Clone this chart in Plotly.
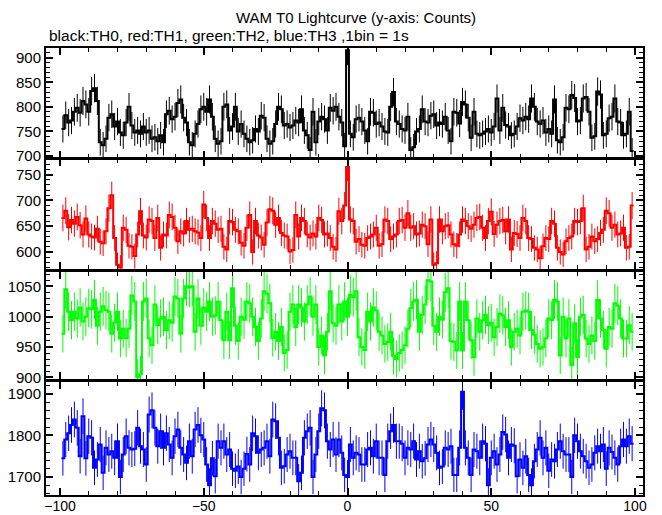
import numpy as np
import plotly.graph_objects as go

# time bins (s), 1 bin = 1 s
bins = list(range(-99, 100))

th0 = [
    755, 783, 768, 772, 790, 798, 788, 812, 805, 790,
    832, 838, 812, 728, 722, 735, 778, 785, 760, 770,
    748, 742, 768, 800, 762, 748, 752, 745, 760, 748,
    752, 735, 738, 730, 742, 728, 785, 792, 775, 780,
    808, 815, 778, 768, 728, 722, 745, 765, 795, 800,
    790, 815, 780, 735, 725, 730, 800, 805, 752, 760,
    800, 750, 765, 745,
    735, 728, 732, 755, 750, 782, 778, 735, 725, 730,
    765, 800, 795, 762, 765, 758, 762, 772, 768, 795,
    752, 742, 712, 790, 728, 770, 780, 775, 752, 798,
    792, 800, 780, 768, 720, 915, 745, 738, 775, 778,
    770, 752, 730, 790, 788, 765, 768, 760, 750, 748,
    800, 830, 770, 765, 755, 752, 780, 712, 718, 750,
    755, 795, 770, 768, 782, 785, 762, 768, 765,
    780, 752, 730, 790, 788, 766, 810, 805, 778, 737,
    790, 745, 742, 745, 750, 755, 748, 760, 817, 752,
    798, 763, 760, 742, 745, 760, 777, 772, 780, 775,
    817, 800, 770, 765, 772, 748, 755, 745, 815, 732,
    728, 738, 798, 795, 824, 818, 770, 772, 817, 820,
    790, 737, 740, 831, 825, 742, 745, 777, 780, 817,
    770, 768, 742, 745, 790, 710,
]

th1 = [
    666, 680, 648, 662, 655, 668, 652, 634, 665, 634,
    630, 628, 645, 620, 617, 640, 685, 710, 627, 575,
    570, 647, 643, 612, 610, 592, 634, 679, 632, 628,
    663, 660, 627, 666, 608, 634, 632, 672, 668, 647,
    621, 640, 636, 660, 643, 645, 640, 638, 627, 692,
    666, 627, 660, 655, 643, 645, 610, 605, 660, 658,
    643, 640, 618, 612,
    647, 672, 600, 660, 632, 628, 614, 657, 683, 680,
    653, 666, 637, 632, 630, 601, 604, 672, 630, 666,
    660, 634, 628, 636, 630, 666, 662, 634, 636, 627,
    610, 605, 679, 660, 690, 765, 663, 660, 620, 625,
    614, 612, 627, 630, 634, 647, 612, 615, 663, 660,
    625, 630, 634, 660, 662, 647, 675, 647, 650, 634,
    636, 653, 650, 615, 663, 575, 578, 663, 640,
    650, 652, 634, 615, 612, 634, 663, 660, 650, 645,
    653, 666, 668, 647, 627, 660, 678, 635, 653, 660,
    662, 640, 663, 605, 637, 635, 627, 666, 660, 627,
    625, 608, 605, 588, 611, 627, 625, 660, 655, 608,
    600, 595, 621, 627, 630, 660, 658, 660, 685, 605,
    610, 630, 621, 625, 637, 643, 680, 675, 647, 653,
    634, 636, 647, 608, 610, 690,
]

th2 = [
    972, 1045, 1008, 994, 1008, 997, 1015, 992, 1000, 1014,
    1012, 1028, 985, 1008, 1017, 1011, 1008, 972, 990, 1008,
    964, 980, 965, 980, 1035, 1025, 900, 905, 1025, 1030,
    964, 953, 1020, 986, 997, 1000, 978, 994, 990, 1033,
    1030, 972, 1030, 1050, 1048, 1050, 975, 1030, 985, 1015,
    1008, 1025, 1000, 1002, 1025, 994, 961, 1008, 961, 1047,
    985, 960, 1000, 995,
    1025, 1022, 1000, 983, 960, 997, 1042, 1038, 1022, 965,
    975, 960, 983, 940, 945, 1008, 1020, 983, 1020, 1015,
    992, 1020, 1033, 1000, 1020, 950, 969, 936, 975, 1042,
    989, 985, 1020, 992, 1025, 1000, 1036, 1032, 1042, 966,
    950, 945, 1008, 992, 1015, 1010, 975, 969, 955, 958,
    975, 935, 930, 940, 945, 953, 980, 1014, 1025, 1028,
    975, 1003, 1020, 1060, 1058, 985, 975, 1000, 995,
    1040, 1047, 960, 958, 944, 1025, 944, 1025, 994, 961,
    933, 997, 975, 994, 1003, 986, 990, 966, 983, 1005,
    1002, 983, 994, 950, 975, 980, 969, 1008, 1010, 1008,
    978, 970, 955, 947, 950, 964, 997, 994, 1028, 1025,
    936, 1000, 964, 997, 920, 989, 933, 1000, 1003, 964,
    955, 969, 960, 1028, 997, 978, 947, 983, 980, 1022,
    1018, 997, 964, 964, 986, 975,
]

th3 = [
    1745, 1790, 1805, 1825, 1838, 1818, 1750, 1846, 1745, 1798,
    1794, 1722, 1742, 1778, 1710, 1770, 1754, 1762, 1746, 1786,
    1700, 1754, 1798, 1770, 1766, 1768, 1818, 1774, 1766, 1730,
    1850, 1860, 1818, 1774, 1810, 1770, 1805, 1778, 1746, 1798,
    1814, 1770, 1754, 1734, 1786, 1750, 1814, 1825, 1800, 1790,
    1730, 1680, 1745, 1702, 1786, 1770, 1786, 1754, 1766, 1720,
    1715, 1725, 1700, 1720,
    1755, 1730, 1805, 1798, 1758, 1766, 1770, 1786, 1750, 1838,
    1834, 1794, 1722, 1726, 1754, 1762, 1746, 1746, 1690, 1710,
    1794, 1810, 1818, 1700, 1754, 1810, 1865, 1860, 1786, 1766,
    1790, 1754, 1790, 1758, 1705, 1700, 1778, 1746, 1758, 1754,
    1730, 1730, 1766, 1770, 1750, 1786, 1746, 1746, 1705, 1786,
    1810, 1825, 1786, 1786, 1780, 1746, 1770, 1766, 1786, 1742,
    1762, 1738, 1745, 1778, 1790, 1778, 1758, 1722, 1725,
    1770, 1766, 1774, 1705, 1705, 1770, 1905, 1770, 1746, 1705,
    1766, 1762, 1746, 1786, 1780, 1680, 1746, 1762, 1730, 1754,
    1808, 1802, 1746, 1778, 1775, 1702, 1742, 1722, 1750, 1705,
    1680, 1738, 1766, 1794, 1746, 1770, 1715, 1742, 1738, 1766,
    1786, 1762, 1754, 1754, 1700, 1800, 1786, 1762, 1750, 1738,
    1722, 1730, 1758, 1774, 1762, 1778, 1720, 1770, 1760, 1746,
    1730, 1774, 1790, 1774, 1798, 1780,
]

colors = ["#000000", "#ff0000", "#00ff00", "#0000ff"]
y_ranges = [[696.9, 919.7], [567.0, 779.5], [896.4, 1073.6], [1656.8, 1929.3]]
y_dticks = [50, 50, 50, 100]
y_minor = [10, 10, 10, 20]
y_domains = [[0.7550, 1.0], [0.5056, 0.7506], [0.2584, 0.4989], [0.0, 0.2539]]

# the page body adds an 8 px offset, so the figure is 8 px smaller on each axis
W, H = 654, 507
ML, MR, MT, MB = 38, 19, 40, 20
pw = W - ML - MR
ph = H - MT - MB
OFF = 8  # page offset (window px -> figure px)

fig = go.Figure()
for i, (vals, col) in enumerate(zip([th0, th1, th2, th3], colors)):
    n = i + 1
    xa = "x" if n == 1 else f"x{n}"
    ya = "y" if n == 1 else f"y{n}"
    v = np.array(vals, dtype=float)
    c = np.array(bins[:len(v)], dtype=float)
    edges = np.append(c - 0.5, c[-1] + 0.5)
    ys = np.append(v, v[-1])
    fig.add_trace(go.Scatter(
        x=c, y=v, mode="markers", marker=dict(size=0, color=col, opacity=0),
        error_y=dict(type="data", array=np.sqrt(v), width=0, thickness=1, color=col),
        xaxis=xa, yaxis=ya, showlegend=False, hoverinfo="skip"))
    fig.add_trace(go.Scatter(
        x=edges, y=ys, mode="lines", line=dict(shape="hv", color=col, width=2),
        xaxis=xa, yaxis=ya, showlegend=False))

FAM = "Liberation Sans, Arial, sans-serif"
yfont = dict(family=FAM, size=15, color="black")
xfont = dict(family=FAM, size=14, color="black")
layout = dict(
    width=W, height=H,
    margin=dict(l=ML, r=MR, t=MT, b=MB, pad=0, autoexpand=False),
    paper_bgcolor="white", plot_bgcolor="white",
    font=yfont, showlegend=False,
)
for i in range(4):
    n = i + 1
    xk = "xaxis" if n == 1 else f"xaxis{n}"
    yk = "yaxis" if n == 1 else f"yaxis{n}"
    layout[xk] = dict(
        domain=[0, 1], anchor="y" if n == 1 else f"y{n}",
        range=[-104.87, 102.78], tick0=0, dtick=50,
        ticks="inside", ticklen=7, tickwidth=2, tickcolor="black",
        minor=dict(dtick=10, tick0=0, ticks="inside", ticklen=4, tickwidth=1, tickcolor="black"),
        showline=True, linewidth=2, linecolor="black", mirror="allticks",
        showgrid=False, zeroline=False, showticklabels=(n == 4),
        tickfont=xfont, automargin=False,
    )
    if n == 4:
        layout[xk]["ticklabelstandoff"] = -3
    if n > 1:
        layout[xk]["matches"] = "x"
    layout[yk] = dict(
        domain=y_domains[i], anchor="x" if n == 1 else f"x{n}",
        range=y_ranges[i], tick0=0, dtick=y_dticks[i],
        ticks="inside", ticklen=7, tickwidth=2, tickcolor="black",
        minor=dict(dtick=y_minor[i], tick0=0, ticks="inside", ticklen=4, tickwidth=1, tickcolor="black"),
        showline=True, linewidth=2, linecolor="black", mirror="allticks",
        showgrid=False, zeroline=False, tickfont=yfont, automargin=False,
    )

plot_left = ML + OFF
plot_bottom = OFF + H - MB
layout["annotations"] = [
    dict(text="WAM T0 Lightcurve (y-axis: Counts)", xref="paper", yref="paper",
         x=(356 - plot_left) / pw, y=(plot_bottom - 17) / ph, xanchor="center", yanchor="middle",
         showarrow=False, font=dict(family=FAM, size=15, color="black")),
    dict(text="black:TH0, red:TH1, green:TH2, blue:TH3 ,1bin = 1s", xref="paper", yref="paper",
         x=(47 - plot_left) / pw, y=(plot_bottom - 35) / ph, xanchor="left", yanchor="middle",
         showarrow=False, font=dict(family=FAM, size=15.5, color="black")),
]
fig.update_layout(**layout)
fig.write_html("out.html")
